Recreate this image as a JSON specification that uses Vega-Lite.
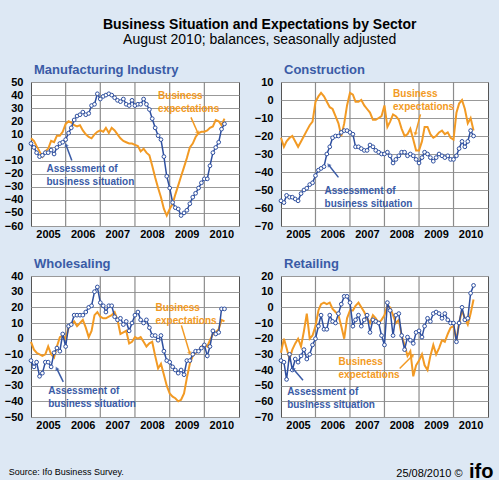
{
"$schema": "https://vega.github.io/schema/vega-lite/v6.json",
"padding": {"left": 3, "top": 17, "right": 5, "bottom": 0},
"title": {"text": "Business Situation and Expectations by Sector", "subtitle": "August 2010; balances, seasonally adjusted", "anchor": "middle", "fontSize": 14, "fontWeight": "bold", "color": "#000000", "subtitleFontSize": 14, "subtitleColor": "#000000", "subtitleFont": "Liberation Sans", "subtitlePadding": 1, "offset": 17, "dx": 11, "frame": "bounds"},
"datasets": {"years": [{"g": "2006-01-01"}, {"g": "2007-01-01"}, {"g": "2008-01-01"}, {"g": "2009-01-01"}, {"g": "2010-01-01"}]},
"data": {"values": [
{"date":"2005/01/01","m_s":3,"m_e":7,"c_s":-56,"c_e":-21,"w_s":-14,"w_e":-2,"r_s":-34,"r_e":-29},
{"date":"2005/02/01","m_s":0,"m_e":5,"c_s":-57,"c_e":-26,"w_s":-18,"w_e":-7,"r_s":-35,"r_e":-20},
{"date":"2005/03/01","m_s":-4,"m_e":1,"c_s":-53,"c_e":-23,"w_s":-15,"w_e":-9,"r_s":-46,"r_e":-26},
{"date":"2005/04/01","m_s":-7,"m_e":-3,"c_s":-54,"c_e":-21,"w_s":-24,"w_e":-10,"r_s":-30,"r_e":-33},
{"date":"2005/05/01","m_s":-6,"m_e":-7,"c_s":-54,"c_e":-20,"w_s":-22,"w_e":-11,"r_s":-40,"r_e":-27},
{"date":"2005/06/01","m_s":-4,"m_e":-3,"c_s":-55,"c_e":-23,"w_s":-15,"w_e":-10,"r_s":-33,"r_e":-23},
{"date":"2005/07/01","m_s":-4,"m_e":-1,"c_s":-56,"c_e":-26,"w_s":-15,"w_e":-5,"r_s":-35,"r_e":-20},
{"date":"2005/08/01","m_s":-2,"m_e":5,"c_s":-52,"c_e":-23,"w_s":-18,"w_e":-10,"r_s":-31,"r_e":-25},
{"date":"2005/09/01","m_s":-5,"m_e":4,"c_s":-50,"c_e":-20,"w_s":-9,"w_e":-12,"r_s":-27,"r_e":-15},
{"date":"2005/10/01","m_s":0,"m_e":9,"c_s":-49,"c_e":-17,"w_s":-6,"w_e":-5,"r_s":-33,"r_e":-4},
{"date":"2005/11/01","m_s":3,"m_e":9,"c_s":-47,"c_e":-14,"w_s":-8,"w_e":1,"r_s":-30,"r_e":-20},
{"date":"2005/12/01","m_s":4,"m_e":12,"c_s":-46,"c_e":-12,"w_s":3,"w_e":2,"r_s":-24,"r_e":-18},
{"date":"2006/01/01","m_s":6,"m_e":18,"c_s":-42,"c_e":-1,"w_s":-5,"w_e":0,"r_s":-20,"r_e":-12},
{"date":"2006/02/01","m_s":11,"m_e":20,"c_s":-39,"c_e":2,"w_s":8,"w_e":7,"r_s":-12,"r_e":-2},
{"date":"2006/03/01","m_s":15,"m_e":19,"c_s":-38,"c_e":4,"w_s":9,"w_e":9,"r_s":-5,"r_e":2},
{"date":"2006/04/01","m_s":21,"m_e":17,"c_s":-37,"c_e":2,"w_s":15,"w_e":11,"r_s":-14,"r_e":3},
{"date":"2006/05/01","m_s":24,"m_e":16,"c_s":-30,"c_e":-1,"w_s":15,"w_e":8,"r_s":-14,"r_e":2},
{"date":"2006/06/01","m_s":25,"m_e":17,"c_s":-26,"c_e":-4,"w_s":15,"w_e":10,"r_s":-5,"r_e":3},
{"date":"2006/07/01","m_s":27,"m_e":13,"c_s":-21,"c_e":-5,"w_s":15,"w_e":12,"r_s":-9,"r_e":-1},
{"date":"2006/08/01","m_s":25,"m_e":10,"c_s":-20,"c_e":-9,"w_s":17,"w_e":7,"r_s":-10,"r_e":-3},
{"date":"2006/09/01","m_s":26,"m_e":8,"c_s":-20,"c_e":-13,"w_s":20,"w_e":1,"r_s":-4,"r_e":-5},
{"date":"2006/10/01","m_s":32,"m_e":7,"c_s":-18,"c_e":-20,"w_s":21,"w_e":5,"r_s":2,"r_e":-12},
{"date":"2006/11/01","m_s":33,"m_e":10,"c_s":-17,"c_e":-13,"w_s":30,"w_e":15,"r_s":7,"r_e":-20},
{"date":"2006/12/01","m_s":41,"m_e":12,"c_s":-17,"c_e":-3,"w_s":33,"w_e":17,"r_s":7,"r_e":-7},
{"date":"2007/01/01","m_s":37,"m_e":13,"c_s":-18,"c_e":4,"w_s":23,"w_e":14,"r_s":3,"r_e":-2},
{"date":"2007/02/01","m_s":39,"m_e":12,"c_s":-19,"c_e":3,"w_s":21,"w_e":13,"r_s":-12,"r_e":-2},
{"date":"2007/03/01","m_s":40,"m_e":15,"c_s":-26,"c_e":-1,"w_s":17,"w_e":13,"r_s":-8,"r_e":1},
{"date":"2007/04/01","m_s":41,"m_e":11,"c_s":-26,"c_e":-1,"w_s":21,"w_e":14,"r_s":-5,"r_e":3},
{"date":"2007/05/01","m_s":40,"m_e":15,"c_s":-27,"c_e":0,"w_s":21,"w_e":15,"r_s":-12,"r_e":0},
{"date":"2007/06/01","m_s":38,"m_e":13,"c_s":-28,"c_e":-3,"w_s":14,"w_e":17,"r_s":-8,"r_e":-3},
{"date":"2007/07/01","m_s":36,"m_e":10,"c_s":-28,"c_e":-5,"w_s":12,"w_e":12,"r_s":-5,"r_e":-7},
{"date":"2007/08/01","m_s":35,"m_e":7,"c_s":-25,"c_e":-7,"w_s":13,"w_e":3,"r_s":-16,"r_e":-10},
{"date":"2007/09/01","m_s":37,"m_e":5,"c_s":-26,"c_e":-11,"w_s":9,"w_e":4,"r_s":-8,"r_e":-5},
{"date":"2007/10/01","m_s":33,"m_e":4,"c_s":-28,"c_e":-11,"w_s":11,"w_e":5,"r_s":-9,"r_e":-7},
{"date":"2007/11/01","m_s":32,"m_e":3,"c_s":-29,"c_e":-10,"w_s":5,"w_e":-3,"r_s":-10,"r_e":-10},
{"date":"2007/12/01","m_s":36,"m_e":3,"c_s":-30,"c_e":-9,"w_s":10,"w_e":-2,"r_s":-18,"r_e":-8},
{"date":"2008/01/01","m_s":32,"m_e":2,"c_s":-30,"c_e":-3,"w_s":15,"w_e":1,"r_s":-24,"r_e":-5},
{"date":"2008/02/01","m_s":33,"m_e":1,"c_s":-29,"c_e":-15,"w_s":17,"w_e":0,"r_s":3,"r_e":1},
{"date":"2008/03/01","m_s":33,"m_e":-3,"c_s":-31,"c_e":-12,"w_s":12,"w_e":1,"r_s":-2,"r_e":0},
{"date":"2008/04/01","m_s":37,"m_e":-1,"c_s":-35,"c_e":-8,"w_s":10,"w_e":-2,"r_s":-18,"r_e":-5},
{"date":"2008/05/01","m_s":33,"m_e":-4,"c_s":-33,"c_e":-9,"w_s":12,"w_e":-5,"r_s":-5,"r_e":-10},
{"date":"2008/06/01","m_s":29,"m_e":-6,"c_s":-31,"c_e":-11,"w_s":7,"w_e":-3,"r_s":-4,"r_e":-8},
{"date":"2008/07/01","m_s":22,"m_e":-14,"c_s":-29,"c_e":-16,"w_s":2,"w_e":-2,"r_s":-18,"r_e":-18},
{"date":"2008/08/01","m_s":15,"m_e":-23,"c_s":-29,"c_e":-20,"w_s":2,"w_e":-11,"r_s":-27,"r_e":-24},
{"date":"2008/09/01","m_s":9,"m_e":-31,"c_s":-31,"c_e":-19,"w_s":-1,"w_e":-19,"r_s":-19,"r_e":-31},
{"date":"2008/10/01","m_s":6,"m_e":-38,"c_s":-30,"c_e":-16,"w_s":2,"w_e":-16,"r_s":-21,"r_e":-28},
{"date":"2008/11/01","m_s":-7,"m_e":-47,"c_s":-31,"c_e":-22,"w_s":-8,"w_e":-23,"r_s":-23,"r_e":-44},
{"date":"2008/12/01","m_s":-22,"m_e":-52,"c_s":-33,"c_e":-28,"w_s":-14,"w_e":-30,"r_s":-16,"r_e":-37},
{"date":"2009/01/01","m_s":-31,"m_e":-47,"c_s":-35,"c_e":-28,"w_s":-15,"w_e":-35,"r_s":-15,"r_e":-34},
{"date":"2009/02/01","m_s":-42,"m_e":-43,"c_s":-32,"c_e":-23,"w_s":-18,"w_e":-37,"r_s":-19,"r_e":-30},
{"date":"2009/03/01","m_s":-46,"m_e":-36,"c_s":-29,"c_e":-15,"w_s":-20,"w_e":-38,"r_s":-12,"r_e":-37},
{"date":"2009/04/01","m_s":-47,"m_e":-29,"c_s":-30,"c_e":-15,"w_s":-22,"w_e":-40,"r_s":-7,"r_e":-40},
{"date":"2009/05/01","m_s":-52,"m_e":-22,"c_s":-32,"c_e":-19,"w_s":-20,"w_e":-39,"r_s":-9,"r_e":-31},
{"date":"2009/06/01","m_s":-50,"m_e":-15,"c_s":-34,"c_e":-21,"w_s":-23,"w_e":-35,"r_s":-4,"r_e":-24},
{"date":"2009/07/01","m_s":-48,"m_e":-8,"c_s":-32,"c_e":-20,"w_s":-14,"w_e":-25,"r_s":-3,"r_e":-30},
{"date":"2009/08/01","m_s":-43,"m_e":0,"c_s":-30,"c_e":-18,"w_s":-14,"w_e":-16,"r_s":-4,"r_e":-26},
{"date":"2009/09/01","m_s":-38,"m_e":3,"c_s":-31,"c_e":-17,"w_s":-10,"w_e":-11,"r_s":-7,"r_e":-21},
{"date":"2009/10/01","m_s":-35,"m_e":8,"c_s":-32,"c_e":-19,"w_s":-8,"w_e":-9,"r_s":-4,"r_e":-22},
{"date":"2009/11/01","m_s":-31,"m_e":11,"c_s":-31,"c_e":-18,"w_s":-8,"w_e":-8,"r_s":-8,"r_e":-17},
{"date":"2009/12/01","m_s":-27,"m_e":12,"c_s":-33,"c_e":-21,"w_s":-6,"w_e":-5,"r_s":-10,"r_e":-13},
{"date":"2010/01/01","m_s":-24,"m_e":12,"c_s":-33,"c_e":-22,"w_s":-4,"w_e":-4,"r_s":-10,"r_e":-12},
{"date":"2010/02/01","m_s":-24,"m_e":13,"c_s":-31,"c_e":-7,"w_s":-11,"w_e":-5,"r_s":-22,"r_e":-21},
{"date":"2010/03/01","m_s":-14,"m_e":15,"c_s":-27,"c_e":-2,"w_s":-5,"w_e":-1,"r_s":-10,"r_e":-10},
{"date":"2010/04/01","m_s":-4,"m_e":16,"c_s":-23,"c_e":0,"w_s":5,"w_e":3,"r_s":0,"r_e":-2},
{"date":"2010/05/01","m_s":0,"m_e":21,"c_s":-26,"c_e":-5,"w_s":3,"w_e":4,"r_s":-8,"r_e":-7},
{"date":"2010/06/01","m_s":4,"m_e":20,"c_s":-23,"c_e":-13,"w_s":4,"w_e":6,"r_s":-7,"r_e":-11},
{"date":"2010/07/01","m_s":14,"m_e":17,"c_s":-17,"c_e":-10,"w_s":19,"w_e":12,"r_s":9,"r_e":-4},
{"date":"2010/08/01","m_s":18,"m_e":22,"c_s":-20,"c_e":-17,"w_s":19,"w_e":11,"r_s":14,"r_e":5}
]},
"spacing": 17,
"vconcat": [
{"spacing": 13, "hconcat": [
{"width": 208, "height": 144, "title": {"text": "Manufacturing Industry"},
 "layer": [
  {"data": {"name": "years"}, "mark": {"type": "rule", "color": "#8c8c8c", "strokeWidth": 1.2}, "encoding": {"x": {"field": "g", "type": "temporal"}}},
  {"mark": {"type": "line", "color": "#f29a24", "strokeWidth": 2},
   "encoding": {
    "x": {"field": "date", "type": "temporal", "scale": {"domain": [{"year": 2005, "month": 1, "date": 1}, {"year": 2011, "month": 1, "date": 1}]},
      "axis": {"title": null, "grid": false, "ticks": false, "tickCount": 40, "values": [{"year": 2005, "month": 1, "date": 1}, {"year": 2006, "month": 1, "date": 1}, {"year": 2007, "month": 1, "date": 1}, {"year": 2008, "month": 1, "date": 1}, {"year": 2009, "month": 1, "date": 1}, {"year": 2010, "month": 1, "date": 1}],
       "format": "%Y", "labelOffset": 17, "labelPadding": 2, "labelOverlap": false, "labelFlush": false, "labelBound": false}},
    "y": {"field": "m_e", "type": "quantitative", "scale": {"domain": [-60, 50], "nice": false, "zero": false},
      "axis": {"title": null, "grid": true, "tickCount": 40, "labelOverlap": false, "values": [-60, -50, -40, -30, -20, -10, 0, 10, 20, 30, 40, 50]}}}},
  {"mark": {"type": "line", "color": "#2e4f9f", "strokeWidth": 1.5, "point": {"filled": false, "fill": "white", "stroke": "#2e4f9f", "strokeWidth": 1, "size": 14}},
   "encoding": {"x": {"field": "date", "type": "temporal"}, "y": {"field": "m_s", "type": "quantitative"}}},
  {"data": {"values": [{"kind": "exp", "date": "2008/09/01", "v": 43, "t": "Business\nexpectations"}, {"kind": "sit", "date": "2005/06/13", "v": -13, "t": "Assessment of\nbusiness situation"}]},
   "mark": {"type": "text", "align": "left", "baseline": "top", "fontSize": 10, "fontWeight": "bold", "lineHeight": 13, "lineBreak": "\n"},
   "encoding": {"x": {"field": "date", "type": "temporal"}, "y": {"field": "v", "type": "quantitative"}, "text": {"field": "t"},
     "color": {"field": "kind", "type": "nominal", "scale": {"domain": ["exp", "sit"], "range": ["#f29a24", "#3a5ba6"]}, "legend": null}}},
  {"data": {"values": [{"kind": "exp", "date": "2009/08/13", "v": 23, "date2": "2009/10/25", "v2": 11}, {"kind": "sit", "date": "2006/03/07", "v": -10, "date2": "2006/01/04", "v2": 2}]},
   "mark": {"type": "rule", "strokeWidth": 1.5},
   "encoding": {"x": {"field": "date", "type": "temporal"}, "y": {"field": "v", "type": "quantitative"}, "x2": {"field": "date2"}, "y2": {"field": "v2"},
     "color": {"field": "kind", "type": "nominal", "scale": {"domain": ["exp", "sit"], "range": ["#f29a24", "#3a5ba6"]}, "legend": null}}},
  {"data": {"values": [{"date": "2009/10/25", "v": 11}]},
   "mark": {"type": "point", "shape": "triangle-up", "filled": true, "color": "#f29a24", "size": 22, "angle": 156},
   "encoding": {"x": {"field": "date", "type": "temporal"}, "y": {"field": "v", "type": "quantitative"}}},
  {"data": {"values": [{"date": "2006/01/04", "v": 2}]},
   "mark": {"type": "point", "shape": "triangle-up", "filled": true, "color": "#3a5ba6", "size": 22, "angle": 338},
   "encoding": {"x": {"field": "date", "type": "temporal"}, "y": {"field": "v", "type": "quantitative"}}}
 ]},
{"width": 207, "height": 144, "title": {"text": "Construction"},
 "layer": [
  {"data": {"name": "years"}, "mark": {"type": "rule", "color": "#8c8c8c", "strokeWidth": 1.2}, "encoding": {"x": {"field": "g", "type": "temporal"}}},
  {"mark": {"type": "line", "color": "#f29a24", "strokeWidth": 2},
   "encoding": {
    "x": {"field": "date", "type": "temporal", "scale": {"domain": [{"year": 2005, "month": 1, "date": 1}, {"year": 2011, "month": 1, "date": 1}]},
      "axis": {"title": null, "grid": false, "ticks": false, "tickCount": 40, "values": [{"year": 2005, "month": 1, "date": 1}, {"year": 2006, "month": 1, "date": 1}, {"year": 2007, "month": 1, "date": 1}, {"year": 2008, "month": 1, "date": 1}, {"year": 2009, "month": 1, "date": 1}, {"year": 2010, "month": 1, "date": 1}],
       "format": "%Y", "labelOffset": 17, "labelPadding": 2, "labelOverlap": false, "labelFlush": false, "labelBound": false}},
    "y": {"field": "c_e", "type": "quantitative", "scale": {"domain": [-70, 10], "nice": false, "zero": false},
      "axis": {"title": null, "grid": true, "tickCount": 40, "labelOverlap": false, "values": [-70, -60, -50, -40, -30, -20, -10, 0, 10]}}}},
  {"mark": {"type": "line", "color": "#2e4f9f", "strokeWidth": 1.5, "point": {"filled": false, "fill": "white", "stroke": "#2e4f9f", "strokeWidth": 1, "size": 14}},
   "encoding": {"x": {"field": "date", "type": "temporal"}, "y": {"field": "c_s", "type": "quantitative"}}},
  {"data": {"values": [{"kind": "exp", "date": "2008/04/01", "v": 6, "t": "Business\nexpectations"}, {"kind": "sit", "date": "2006/04/07", "v": -48, "t": "Assessment of\nbusiness situation"}]},
   "mark": {"type": "text", "align": "left", "baseline": "top", "fontSize": 10, "fontWeight": "bold", "lineHeight": 13, "lineBreak": "\n"},
   "encoding": {"x": {"field": "date", "type": "temporal"}, "y": {"field": "v", "type": "quantitative"}, "text": {"field": "t"},
     "color": {"field": "kind", "type": "nominal", "scale": {"domain": ["exp", "sit"], "range": ["#f29a24", "#3a5ba6"]}, "legend": null}}},
  {"data": {"values": [{"kind": "exp", "date": "2009/01/16", "v": -8, "date2": "2008/11/22", "v2": -19}, {"kind": "sit", "date": "2006/09/01", "v": -43, "date2": "2006/05/19", "v2": -36}]},
   "mark": {"type": "rule", "strokeWidth": 1.5},
   "encoding": {"x": {"field": "date", "type": "temporal"}, "y": {"field": "v", "type": "quantitative"}, "x2": {"field": "date2"}, "y2": {"field": "v2"},
     "color": {"field": "kind", "type": "nominal", "scale": {"domain": ["exp", "sit"], "range": ["#f29a24", "#3a5ba6"]}, "legend": null}}},
  {"data": {"values": [{"date": "2008/11/22", "v": -19}]},
   "mark": {"type": "point", "shape": "triangle-up", "filled": true, "color": "#f29a24", "size": 22, "angle": 195},
   "encoding": {"x": {"field": "date", "type": "temporal"}, "y": {"field": "v", "type": "quantitative"}}},
  {"data": {"values": [{"date": "2006/05/19", "v": -36}]},
   "mark": {"type": "point", "shape": "triangle-up", "filled": true, "color": "#3a5ba6", "size": 22, "angle": 323},
   "encoding": {"x": {"field": "date", "type": "temporal"}, "y": {"field": "v", "type": "quantitative"}}}
 ]}
]},
{"vconcat": [
 {"vconcat": [
  {"spacing": 13, "title": {"text": "Source: Ifo Business Survey.", "orient": "bottom", "anchor": "start", "fontSize": 9, "fontWeight": "normal", "color": "#000000", "offset": 37, "dx": 5, "dy": 0, "frame": "bounds"},
   "hconcat": [
{"width": 208, "height": 141, "title": {"text": "Wholesaling"},
 "layer": [
  {"data": {"name": "years"}, "mark": {"type": "rule", "color": "#8c8c8c", "strokeWidth": 1.2}, "encoding": {"x": {"field": "g", "type": "temporal"}}},
  {"mark": {"type": "line", "color": "#f29a24", "strokeWidth": 2},
   "encoding": {
    "x": {"field": "date", "type": "temporal", "scale": {"domain": [{"year": 2005, "month": 1, "date": 1}, {"year": 2011, "month": 1, "date": 1}]},
      "axis": {"title": null, "grid": false, "ticks": false, "tickCount": 40, "values": [{"year": 2005, "month": 1, "date": 1}, {"year": 2006, "month": 1, "date": 1}, {"year": 2007, "month": 1, "date": 1}, {"year": 2008, "month": 1, "date": 1}, {"year": 2009, "month": 1, "date": 1}, {"year": 2010, "month": 1, "date": 1}],
       "format": "%Y", "labelOffset": 17, "labelPadding": 2, "labelOverlap": false, "labelFlush": false, "labelBound": false}},
    "y": {"field": "w_e", "type": "quantitative", "scale": {"domain": [-50, 40], "nice": false, "zero": false},
      "axis": {"title": null, "grid": true, "tickCount": 40, "labelOverlap": false, "values": [-50, -40, -30, -20, -10, 0, 10, 20, 30, 40]}}}},
  {"mark": {"type": "line", "color": "#2e4f9f", "strokeWidth": 1.5, "point": {"filled": false, "fill": "white", "stroke": "#2e4f9f", "strokeWidth": 1, "size": 14}},
   "encoding": {"x": {"field": "date", "type": "temporal"}, "y": {"field": "w_s", "type": "quantitative"}}},
  {"data": {"values": [{"kind": "exp", "date": "2008/08/04", "v": 23, "t": "Business\nexpectations"}, {"kind": "sit", "date": "2005/07/01", "v": -30, "t": "Assessment of\nbusiness situation"}]},
   "mark": {"type": "text", "align": "left", "baseline": "top", "fontSize": 10, "fontWeight": "bold", "lineHeight": 13, "lineBreak": "\n"},
   "encoding": {"x": {"field": "date", "type": "temporal"}, "y": {"field": "v", "type": "quantitative"}, "text": {"field": "t"},
     "color": {"field": "kind", "type": "nominal", "scale": {"domain": ["exp", "sit"], "range": ["#f29a24", "#3a5ba6"]}, "legend": null}}},
  {"data": {"values": [{"kind": "exp", "date": "2009/05/04", "v": 8.5, "date2": "2009/08/01", "v2": -9.5}, {"kind": "sit", "date": "2005/12/07", "v": -27.6, "date2": "2005/09/28", "v2": -19}]},
   "mark": {"type": "rule", "strokeWidth": 1.5},
   "encoding": {"x": {"field": "date", "type": "temporal"}, "y": {"field": "v", "type": "quantitative"}, "x2": {"field": "date2"}, "y2": {"field": "v2"},
     "color": {"field": "kind", "type": "nominal", "scale": {"domain": ["exp", "sit"], "range": ["#f29a24", "#3a5ba6"]}, "legend": null}}},
  {"data": {"values": [{"date": "2009/08/01", "v": -9.5}]},
   "mark": {"type": "point", "shape": "triangle-up", "filled": true, "color": "#f29a24", "size": 22, "angle": 164},
   "encoding": {"x": {"field": "date", "type": "temporal"}, "y": {"field": "v", "type": "quantitative"}}},
  {"data": {"values": [{"date": "2005/09/28", "v": -19}]},
   "mark": {"type": "point", "shape": "triangle-up", "filled": true, "color": "#3a5ba6", "size": 22, "angle": 333},
   "encoding": {"x": {"field": "date", "type": "temporal"}, "y": {"field": "v", "type": "quantitative"}}}
 ]},
{"width": 207, "height": 141, "title": {"text": "Retailing"},
 "layer": [
  {"data": {"name": "years"}, "mark": {"type": "rule", "color": "#8c8c8c", "strokeWidth": 1.2}, "encoding": {"x": {"field": "g", "type": "temporal"}}},
  {"mark": {"type": "line", "color": "#f29a24", "strokeWidth": 2},
   "encoding": {
    "x": {"field": "date", "type": "temporal", "scale": {"domain": [{"year": 2005, "month": 1, "date": 1}, {"year": 2011, "month": 1, "date": 1}]},
      "axis": {"title": null, "grid": false, "ticks": false, "tickCount": 40, "values": [{"year": 2005, "month": 1, "date": 1}, {"year": 2006, "month": 1, "date": 1}, {"year": 2007, "month": 1, "date": 1}, {"year": 2008, "month": 1, "date": 1}, {"year": 2009, "month": 1, "date": 1}, {"year": 2010, "month": 1, "date": 1}],
       "format": "%Y", "labelOffset": 17, "labelPadding": 2, "labelOverlap": false, "labelFlush": false, "labelBound": false}},
    "y": {"field": "r_e", "type": "quantitative", "scale": {"domain": [-70, 20], "nice": false, "zero": false},
      "axis": {"title": null, "grid": true, "tickCount": 40, "labelOverlap": false, "values": [-70, -60, -50, -40, -30, -20, -10, 0, 10, 20]}}}},
  {"mark": {"type": "line", "color": "#2e4f9f", "strokeWidth": 1.5, "point": {"filled": false, "fill": "white", "stroke": "#2e4f9f", "strokeWidth": 1, "size": 14}},
   "encoding": {"x": {"field": "date", "type": "temporal"}, "y": {"field": "r_s", "type": "quantitative"}}},
  {"data": {"values": [{"kind": "exp", "date": "2006/09/01", "v": -32, "t": "Business\nexpectations"}, {"kind": "sit", "date": "2005/03/07", "v": -51, "t": "Assessment of\nbusiness situation"}]},
   "mark": {"type": "text", "align": "left", "baseline": "top", "fontSize": 10, "fontWeight": "bold", "lineHeight": 13, "lineBreak": "\n"},
   "encoding": {"x": {"field": "date", "type": "temporal"}, "y": {"field": "v", "type": "quantitative"}, "text": {"field": "t"},
     "color": {"field": "kind", "type": "nominal", "scale": {"domain": ["exp", "sit"], "range": ["#f29a24", "#3a5ba6"]}, "legend": null}}},
  {"data": {"values": [{"kind": "exp", "date": "2008/06/10", "v": -39, "date2": "2008/10/28", "v2": -30.6}, {"kind": "sit", "date": "2005/08/22", "v": -46.6, "date2": "2005/05/07", "v2": -39}]},
   "mark": {"type": "rule", "strokeWidth": 1.5},
   "encoding": {"x": {"field": "date", "type": "temporal"}, "y": {"field": "v", "type": "quantitative"}, "x2": {"field": "date2"}, "y2": {"field": "v2"},
     "color": {"field": "kind", "type": "nominal", "scale": {"domain": ["exp", "sit"], "range": ["#f29a24", "#3a5ba6"]}, "legend": null}}},
  {"data": {"values": [{"date": "2008/10/28", "v": -30.6}]},
   "mark": {"type": "point", "shape": "triangle-up", "filled": true, "color": "#f29a24", "size": 22, "angle": 45},
   "encoding": {"x": {"field": "date", "type": "temporal"}, "y": {"field": "v", "type": "quantitative"}}},
  {"data": {"values": [{"date": "2005/05/07", "v": -39}]},
   "mark": {"type": "point", "shape": "triangle-up", "filled": true, "color": "#3a5ba6", "size": 22, "angle": 320},
   "encoding": {"x": {"field": "date", "type": "temporal"}, "y": {"field": "v", "type": "quantitative"}}}
 ]}
   ]}
  ],
  "title": {"text": "25/08/2010 ©", "orient": "bottom", "anchor": "end", "fontSize": 11, "fontWeight": "normal", "color": "#000000", "offset": 0, "dx": -26, "dy": -9, "frame": "bounds"}}
 ],
 "title": {"text": "ifo", "orient": "bottom", "anchor": "end", "fontSize": 20, "fontWeight": "bold", "color": "#000000", "offset": 0, "dx": 5, "dy": -17, "frame": "bounds"}}
],
"config": {
 "background": "#dde8f4",
 "font": "Liberation Sans",
 "view": {"stroke": "#555555", "strokeWidth": 1, "fill": "white"},
 "axis": {"labelFontSize": 11, "labelFontWeight": "bold", "labelColor": "#000000", "gridColor": "#999999", "gridWidth": 1, "domain": false},
 "axisY": {"tickSize": 0, "labelPadding": 8, "labelOverlap": false},
 "title": {"anchor": "start", "frame": "group", "fontSize": 13, "fontWeight": "bold", "color": "#3a5ba6", "offset": -1, "dx": 3},
 "concat": {"spacing": 13}
}
}
